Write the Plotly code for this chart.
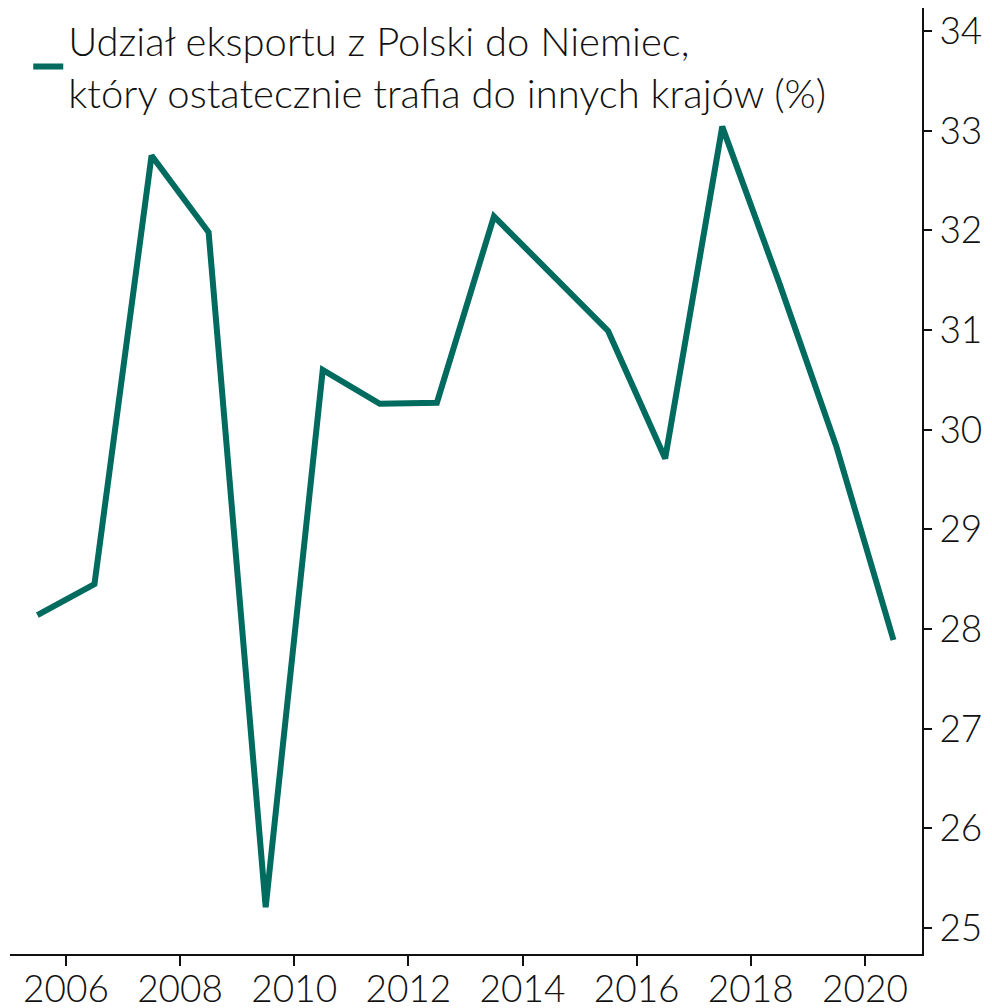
import plotly.graph_objects as go

years = [2005.5, 2006.5, 2007.5, 2008.5, 2009.5, 2010.5, 2011.5, 2012.5,
         2013.5, 2014.5, 2015.5, 2016.5, 2017.5, 2018.5, 2019.5, 2020.5]
share = [28.14, 28.45, 32.75, 31.98, 25.21, 30.60, 30.26, 30.27,
         32.14, 31.57, 30.99, 29.71, 33.04, 31.47, 29.83, 27.89]
x_ticks = [2006, 2008, 2010, 2012, 2014, 2016, 2018, 2020]
y_ticks = [25, 26, 27, 28, 29, 30, 31, 32, 33, 34]
series_name = "Udział eksportu z Polski do Niemiec,<br>który ostatecznie trafia do innych krajów (%)"

color = "#006B5E"
font_family = "Lato, Noto Sans, sans-serif"
fs = 37

fig = go.Figure()
fig.add_trace(go.Scatter(
    x=years, y=share, mode="lines", name=series_name,
    line=dict(color=color, width=6), showlegend=True,
))

fig.update_layout(
    width=992, height=1008,
    margin=dict(l=2, r=78, t=0, b=62),
    paper_bgcolor="white", plot_bgcolor="white",
    font=dict(family=font_family, size=fs, color="#111", weight=300),
    showlegend=True,
    legend=dict(x=0.02, y=1.0, xanchor="left", yanchor="top",
                bgcolor="rgba(0,0,0,0)", font=dict(size=40, weight=300),
                itemwidth=30, valign="middle"),
    xaxis=dict(range=[2005.02, 2021.0], tickvals=x_ticks,
               ticktext=[str(v) for v in x_ticks], automargin=False,
               showgrid=False, zeroline=False, showline=True,
               linecolor="#111", linewidth=2, ticks="outside",
               ticklen=10, tickwidth=2, tickcolor="#111",
               ticklabeloverflow="allow",
               tickfont=dict(size=fs, weight=300)),
    yaxis=dict(range=[24.74, 34.23], tickvals=y_ticks, side="right",
               automargin=False, ticklabeloverflow="allow",
               showgrid=False, zeroline=False, showline=True,
               linecolor="#111", linewidth=2, ticks="outside",
               ticklen=8, tickwidth=2, tickcolor="#111",
               tickfont=dict(size=fs, weight=300)),
)

try:
    fig.update_xaxes(ticklabelstandoff=-8)
except Exception:
    pass

fig.write_html("out.html")
